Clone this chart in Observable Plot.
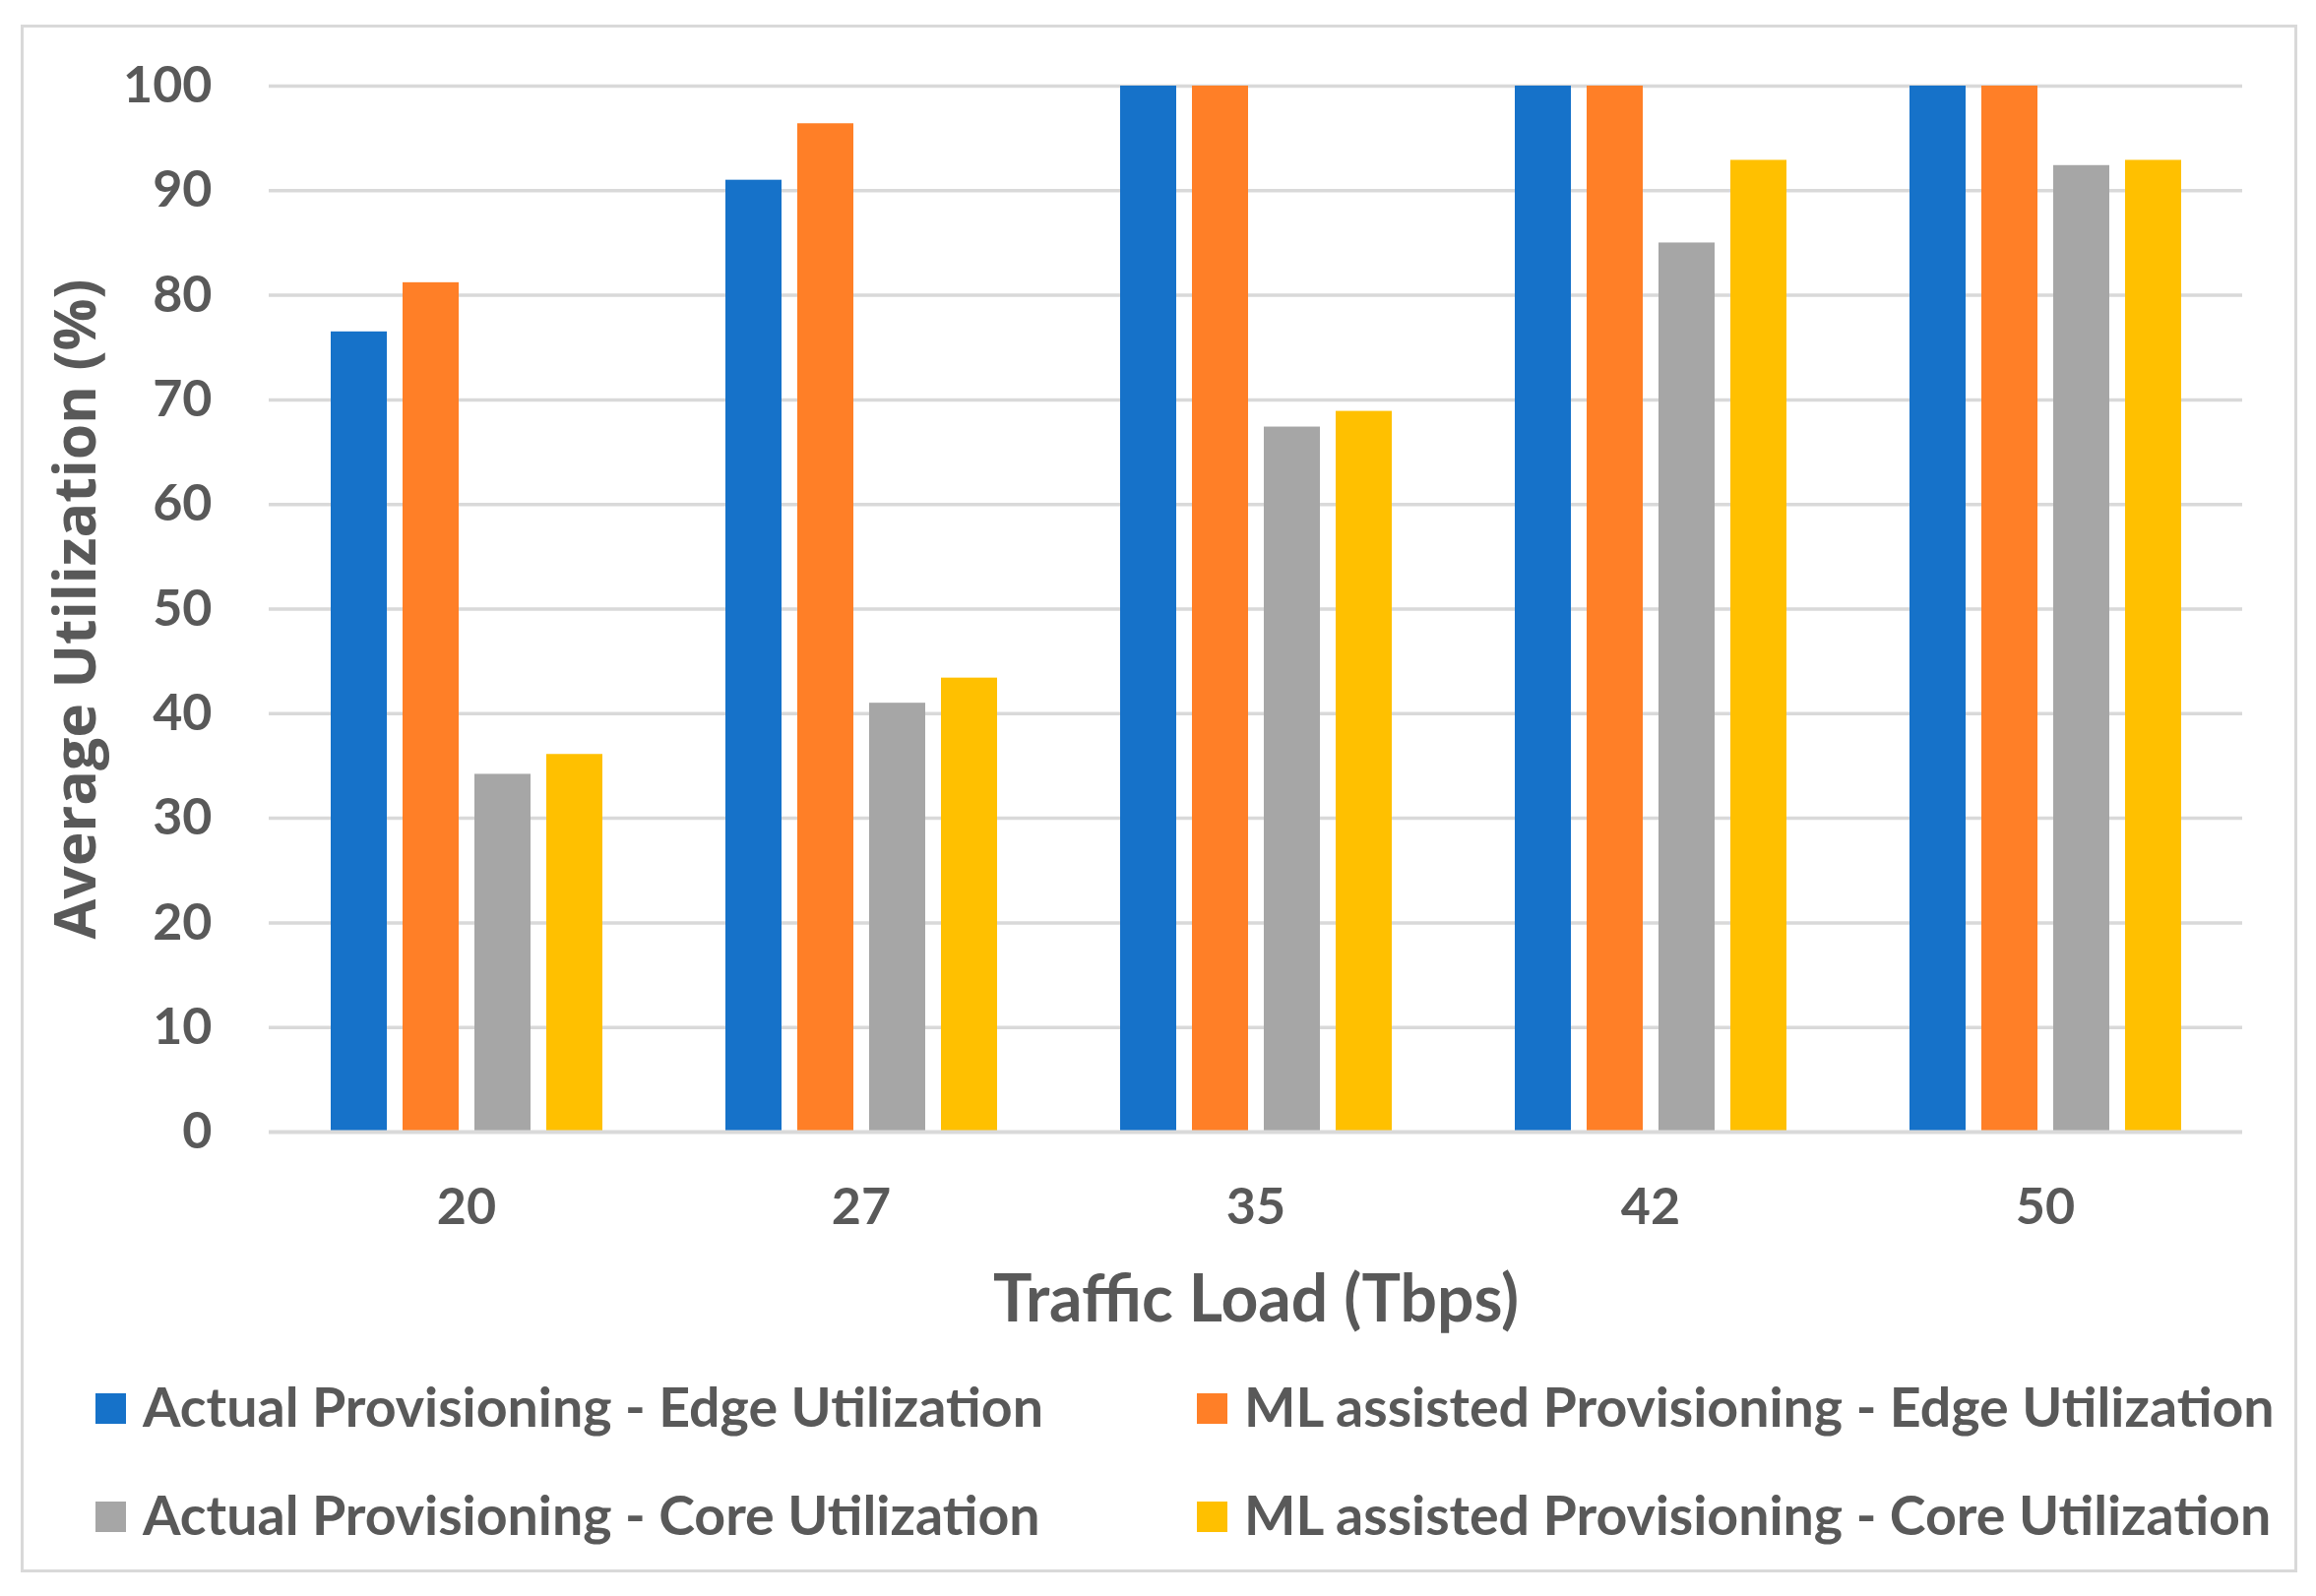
<!DOCTYPE html>
<html>
<head>
<meta charset="utf-8">
<script src="https://cdn.jsdelivr.net/npm/d3@7"></script>
<script src="https://cdn.jsdelivr.net/npm/@observablehq/plot@0.6"></script>
<style>
  html, body { margin: 0; padding: 0; background: #ffffff; overflow: hidden; }
  #page { position: relative; width: 2353px; height: 1622px; background: #ffffff; }
  #frame { position: absolute; left: 21px; top: 25px; width: 2313px; height: 1573px; box-sizing: border-box; border: 3px solid #d9d9d9; }
  #chart { position: absolute; left: 0; top: 0; }
  #chart svg { overflow: visible; }
  #chart g[aria-label="fx-axis label"] { font-size: 66px; }
  #chart g[aria-label="y-axis label"] { font-size: 59px; font-family: "Open Sans", sans-serif; font-weight: 700; }
  #legend { position: absolute; left: 97px; top: 1373px; display: grid; grid-template-columns: 1119px auto; grid-auto-rows: 110px; }
  .item { display: flex; align-items: center; font-family: Lato, sans-serif; font-weight: 700; font-size: 55.5px; color: #595959; white-space: nowrap; }
  .sw { width: 31px; height: 31px; margin-right: 17px; flex: none; position: relative; top: 3px; }
</style>
</head>
<body>
<div id="page">
  <div id="frame"></div>
  <div id="chart"></div>
  <div id="legend"></div>
</div>
<script>
// Data
const loads = ["20", "27", "35", "42", "50"];
const seriesNames = [
  "Actual Provisioning - Edge Utilization",
  "ML assisted Provisioning - Edge Utilization",
  "Actual Provisioning - Core Utilization",
  "ML assisted Provisioning - Core Utilization"
];
const actualEdge = [76.5, 91.0, 100, 100, 100];
const mlEdge     = [81.2, 96.4, 100, 100, 100];
const actualCore = [34.2, 41.0, 67.4, 85.0, 92.4];
const mlCore     = [36.1, 43.4, 68.9, 92.9, 92.9];
const yTicks = [0, 10, 20, 30, 40, 50, 60, 70, 80, 90, 100];
const colors = ["#1672c9", "#ff7f27", "#a6a6a6", "#ffc000"];

const allSeries = [actualEdge, mlEdge, actualCore, mlCore];
const rows = loads.flatMap((load, i) =>
  allSeries.map((vals, j) => ({load, series: seriesNames[j], value: vals[i]}))
);

const font = "Lato, sans-serif";

const chart = Plot.plot({
  width: 2353,
  height: 1380,
  marginLeft: 273,
  marginRight: 75,
  marginTop: 87,
  marginBottom: 230,
  style: {background: "transparent", fontFamily: font, fontWeight: 700, color: "#595959"},
  fx: {domain: loads, padding: 0},
  x: {domain: seriesNames, paddingInner: 0.22, paddingOuter: 0.856, axis: null},
  y: {domain: [0, 100]},
  color: {domain: seriesNames, range: colors},
  marks: [
    Plot.gridY(yTicks.slice(1), {stroke: "#d9d9d9", strokeOpacity: 1, strokeWidth: 3.5}),
    Plot.barY(rows, {fx: "load", x: "series", y: "value", fill: "series"}),
    Plot.ruleY([0], {stroke: "#d9d9d9", strokeWidth: 4}),
    Plot.axisY({
      ticks: yTicks, tickSize: 0, tickPadding: 58, fontSize: 52, fill: "#595959",
      fontFamily: font, fontWeight: 700,
      label: "Average Utilization (%)", labelAnchor: "center", labelArrow: "none", labelOffset: 218
    }),
    Plot.axisFx({
      anchor: "bottom", tickSize: 0, tickPadding: 57, fontSize: 52, fill: "#595959",
      fontFamily: font, fontWeight: 700,
      label: "Traffic Load (Tbps)", labelAnchor: "center", labelArrow: "none", labelOffset: 192
    })
  ]
});
document.getElementById("chart").appendChild(chart);

const legend = document.getElementById("legend");
seriesNames.forEach((name, j) => {
  const item = document.createElement("div");
  item.className = "item";
  const sw = document.createElement("span");
  sw.className = "sw";
  sw.style.background = colors[j];
  const label = document.createElement("span");
  label.textContent = name;
  item.appendChild(sw);
  item.appendChild(label);
  legend.appendChild(item);
});
</script>
</body>
</html>
